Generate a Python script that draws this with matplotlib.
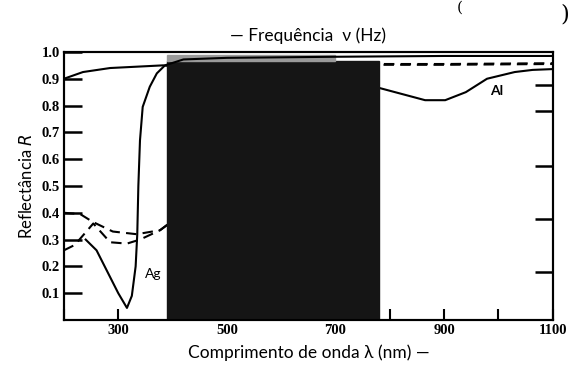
import matplotlib
matplotlib.use("Agg")
import matplotlib.pyplot as plt
from matplotlib.patches import Rectangle

# dados (comprimento de onda em nm, refletancia R)
ag_nm = [240, 260, 280, 300, 316, 325, 332, 335, 337, 340, 345, 358, 371, 386, 420, 500, 700, 900, 1100]
ag_r = [0.30, 0.26, 0.18, 0.10, 0.045, 0.09, 0.20, 0.32, 0.50, 0.67, 0.795, 0.87, 0.92, 0.95, 0.972, 0.978, 0.982, 0.985, 0.985]

al_nm = [200, 235, 285, 383, 500, 700, 780, 865, 902, 940, 979, 1030, 1063, 1100]
al_r = [0.90, 0.925, 0.94, 0.95, 0.92, 0.89, 0.866, 0.82, 0.82, 0.85, 0.90, 0.925, 0.933, 0.936]

# duas curvas tracejadas (Cu e Au)
d1_nm = [200, 230, 253, 290, 334, 377, 420, 600, 780, 900, 1100]
d1_r = [0.40, 0.395, 0.366, 0.33, 0.32, 0.335, 0.40, 0.90, 0.955, 0.955, 0.958]
d2_nm = [200, 220, 254, 285, 316, 340, 377, 420, 600, 780, 900, 1100]
d2_r = [0.26, 0.28, 0.36, 0.29, 0.285, 0.30, 0.335, 0.40, 0.90, 0.952, 0.952, 0.955]

# espectro visivel (faixa escura)
vis_lo, vis_hi = 390, 780
vis_top = 0.965

xticks = [200, 300, 400, 500, 600, 700, 800, 900, 1000, 1100]
xlabels = ["", "300", "", "500", "", "700", "", "900", "", "1100"]
yticks = [0.1, 0.2, 0.3, 0.4, 0.5, 0.6, 0.7, 0.8, 0.9, 1.0]
ylabels = ["0.1", "0.2", "0.3", "0.4", "0.5", "0.6", "0.7", "0.8", "0.9", "1.0"]
right_ticks = [0.18, 0.375, 0.575, 0.78, 0.877]

fig = plt.figure(figsize=(5.71, 3.71), dpi=100)
ax = fig.add_axes([0.112, 0.1375, 0.856, 0.7225])

ax.plot(al_nm, al_r, color="black", lw=1.5, zorder=2)
ax.plot(d1_nm, d1_r, color="black", lw=1.5, ls=(0, (5, 3)), zorder=2)
ax.plot(d2_nm, d2_r, color="black", lw=1.5, ls=(0, (5, 3)), zorder=2)
ax.add_patch(Rectangle((vis_lo, 0), vis_hi - vis_lo, vis_top, color="#151515", zorder=3))
ax.add_patch(Rectangle((vis_lo, vis_top), 700 - vis_lo, 0.025, color="#9a9a9a", zorder=3))
ax.plot(ag_nm, ag_r, color="black", lw=1.5, zorder=4)

ax.text(349, 0.155, "Ag", fontsize=10, family="Lato", zorder=5)
ax.text(984, 0.84, "Al", fontsize=10, family="Lato", fontweight="bold", zorder=5)

ax.set_xlim(200, 1100)
ax.set_ylim(0, 1.0)
ax.set_xticks(xticks)
ax.set_xticklabels(xlabels)
ax.set_yticks(yticks)
ax.set_yticklabels(ylabels)
ax.tick_params(axis="y", direction="in", length=13, width=1.8, pad=3)
ax.tick_params(axis="x", direction="in", length=8, width=1.5, pad=3)
for lab in ax.get_xticklabels() + ax.get_yticklabels():
    lab.set_fontfamily("Liberation Serif")
    lab.set_fontweight("bold")
    lab.set_fontsize(10.5)

ax2 = ax.twinx()
ax2.set_ylim(0, 1.0)
ax2.set_yticks(right_ticks)
ax2.set_yticklabels([])
ax2.tick_params(axis="y", direction="in", length=13, width=1.8)

for a in (ax, ax2):
    for s in a.spines.values():
        s.set_linewidth(1.5)

ax.set_title("— Frequência  ν (Hz)", fontsize=12.5, family="Lato", pad=8)
ax.set_xlabel("Comprimento de onda λ (nm) —", fontsize=12.5, family="Lato", labelpad=5)
ax.set_ylabel("Reflectância $R$", fontsize=12, family="Lato", labelpad=5)

fig.text(0.80, 0.998, "(", fontsize=11, va="top", family="DejaVu Serif")
fig.text(0.982, 0.99, ")", fontsize=16, va="top", family="DejaVu Serif")

fig.savefig("out.png", dpi=100)
